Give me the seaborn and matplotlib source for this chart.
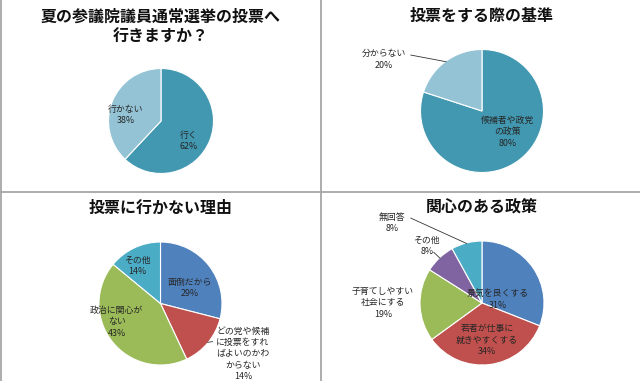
import numpy as np
import matplotlib
matplotlib.use("Agg")
import matplotlib.pyplot as plt
from matplotlib.lines import Line2D
import seaborn as sns

sns.set_theme(style="white")
plt.rcParams['font.family'] = ['Noto Sans CJK JP', 'DejaVu Sans']

# data
q1_title = "夏の参議院議員通常選挙の投票へ\n行きますか？"
q1_labels = ["行く", "行かない"]
q1_values = [62, 38]

q2_title = "投票をする際の基準"
q2_labels = ["候補者や政党\nの政策", "分からない"]
q2_values = [80, 20]

q3_title = "投票に行かない理由"
q3_labels = ["面倒だから", "どの党や候補\nに投票をすれ\nばよいのかわ\nからない", "政治に関心が\nない", "その他"]
q3_values = [29, 14, 43, 14]

q4_title = "関心のある政策"
q4_labels = ["景気を良くする", "若者が仕事に\n就きやすくする", "子育てしやすい\n社会にする", "その他", "無回答"]
q4_values = [31, 34, 19, 8, 8]

teal = ["#4298b0", "#93c3d5"]
office = ["#4f81bd", "#c0504d", "#9bbb59", "#8064a2", "#4bacc6"]

W, H = 640, 381
fig = plt.figure(figsize=(W / 100, H / 100), dpi=100)


def px_axes(cx, cy, r):
    return fig.add_axes([(cx - r) / W, 1 - (cy + r) / H, 2 * r / W, 2 * r / H])


def draw_pie(cx, cy, r, values, labels, colors, label_pos, leaders, title, title_y):
    ax = px_axes(cx, cy, r)
    ax.pie(values, colors=colors, startangle=90, counterclock=False,
           radius=1, wedgeprops=dict(edgecolor="white", linewidth=0.8))
    ax.set_xlim(-1, 1)
    ax.set_ylim(-1, 1)
    ax.set_aspect("equal")
    ax.axis("off")
    # wedge mid-angles from the data
    fr = np.array(values) / np.sum(values)
    ends = 90 - 360 * np.cumsum(fr)
    mids = ends + 180 * fr
    for i, (lab, v) in enumerate(zip(labels, values)):
        tx, ty = label_pos[i]
        ax.text(tx, ty, f"{lab}\n{v}%", ha="center", va="center", fontsize=6.4,
                color="#262626", linespacing=1.35, clip_on=False)
        if i in leaders:
            sx, sy = leaders[i]
            a = np.deg2rad(mids[i])
            ax.add_line(Line2D([sx, np.cos(a) * 0.99], [sy, np.sin(a) * 0.99],
                               color="#333333", lw=0.6, clip_on=False))
    fig.text(cx / W, 1 - title_y / H, title, ha="center", va="top", fontsize=11.5,
             fontweight="bold", color="#111111", linespacing=1.3)


draw_pie(161, 121, 52.5, q1_values, q1_labels, teal,
         [(0.52, -0.38), (-0.67, 0.11)], {}, q1_title, 9)
draw_pie(482, 111, 61.5, q2_values, q2_labels, teal,
         [(0.41, -0.34), (-1.6, 0.84)], {1: (-1.16, 0.91)}, q2_title, 8)
draw_pie(160.5, 303.5, 61.5, q3_values, q3_labels, office[:2] + [office[2], office[4]],
         [(0.48, 0.25), (1.34, -0.82), (-0.71, -0.30), (-0.38, 0.61)],
         {1: (0.85, -0.62)}, q3_title, 200)
draw_pie(482, 303, 62, q4_values, q4_labels, office,
         [(0.26, 0.06), (0.08, -0.60), (-1.6, 0.0), (-0.89, 0.92), (-1.45, 1.29)],
         {3: (-0.78, 0.82), 4: (-1.15, 1.37)}, q4_title, 200)

# panel separators
sep = "#a6a6a6"
fig.add_artist(Line2D([321 / W, 321 / W], [0, 1], color=sep, lw=1.3))
fig.add_artist(Line2D([0, 1], [1 - 192 / H, 1 - 192 / H], color=sep, lw=1.3))
fig.add_artist(Line2D([0.6 / W, 0.6 / W], [0, 1], color=sep, lw=1.3))

fig.savefig("out.png", dpi=100)
